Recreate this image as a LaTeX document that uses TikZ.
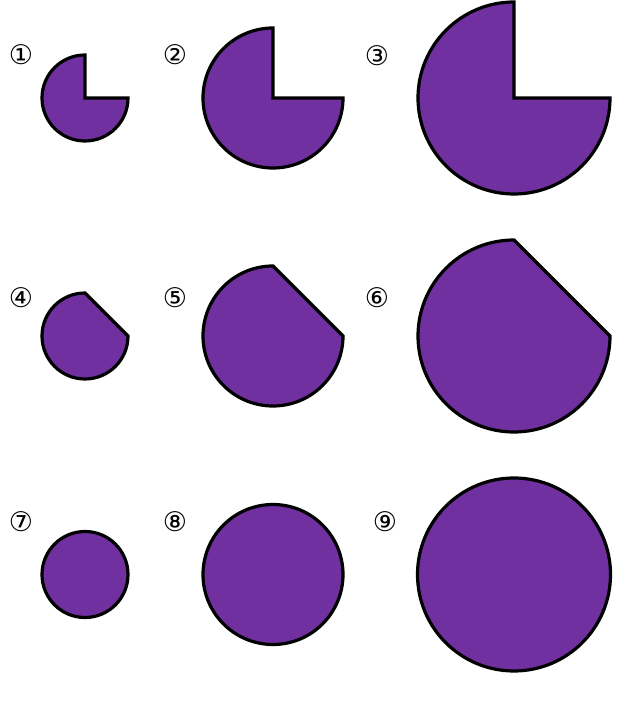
\documentclass[tikz,border=0pt]{standalone}
\usepackage{fontspec}
\newfontfamily\symfont{DejaVu Sans}
\definecolor{fillpurple}{HTML}{7030A0}
\begin{document}
\begin{tikzpicture}[x=1pt,y=1pt,
  blob/.style={fill=fillpurple,draw=black,line width=3.2pt,line join=miter},
  numlabel/.style={font=\symfont\fontsize{27}{27}\selectfont,inner sep=0pt}]
\useasboundingbox (0,0) rectangle (640,712);
% row 1: pies with missing quarter
\foreach \cx/\r in {85/43,273/70,514/96}{
  \draw[blob] (\cx,614) -- ++(0,\r) arc[start angle=90,end angle=360,radius=\r pt] -- cycle;
}
% row 2: chord cut
\foreach \cx/\r in {85/43,273/70,514/96}{
  \draw[blob] (\cx,376) ++(0,\r) arc[start angle=90,end angle=360,radius=\r pt] -- cycle;
}
% row 3: full circles
\foreach \cx/\r in {85/43,273/70,514/96.5}{
  \draw[blob] (\cx,137.5) circle[radius=\r pt];
}
\node[numlabel] (l1) at (21,657) {①};
\node[numlabel] (l2) at (175,657) {②};
\node[numlabel] (l3) at (377,656) {③};
\node[numlabel] (l4) at (21,414) {④};
\node[numlabel] (l5) at (175,414) {⑤};
\node[numlabel] (l6) at (377,414) {⑥};
\node[numlabel] (l7) at (21,190) {⑦};
\node[numlabel] (l8) at (175,190) {⑧};
\node[numlabel] (l9) at (385,190) {⑨};
\end{tikzpicture}
\end{document}
